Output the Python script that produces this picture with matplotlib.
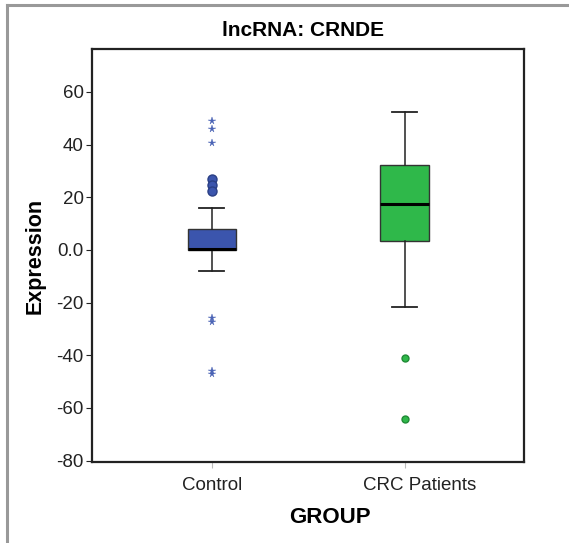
import numpy as np
import matplotlib.pyplot as plt
import matplotlib.transforms as mtransforms
from matplotlib.lines import Line2D

plt.rcParams['font.family'] = ['Liberation Sans', 'DejaVu Sans']

# Data
groups = ['Control', 'CRC Patients']
q1 = [0.0, 3.4]
med = [0.3, 17.5]
q3 = [8.0, 32.3]
whislo = [-8.0, -21.7]
whishi = [16.0, 52.5]
outliers = [[27.0, 24.5, 22.5], [-41.0, -64.0]]      # circles
extremes = [[49.0, 46.0, 40.5, -26.0, -27.5, -46.0, -47.0], []]  # stars
colors = ['#3b55ad', '#2fb84a']
yticks = [-80, -60, -40, -20, 0, 20, 40, 60]
ytick_labels = ['-80', '-60', '-40', '-20', '0.0', '20', '40', '60']

fig = plt.figure(figsize=(5.69, 5.43), dpi=100)
ax = fig.add_axes([0.1617, 0.1492, 0.7593, 0.7606])

pos = [1, 2]
stats = []
for i in range(2):
    stats.append({'q1': q1[i], 'med': med[i], 'q3': q3[i],
                  'whislo': whislo[i], 'whishi': whishi[i], 'fliers': []})

bp = ax.bxp(stats, positions=pos, widths=0.25, patch_artist=True,
            showfliers=False,
            boxprops=dict(edgecolor='#333333', linewidth=1.0),
            medianprops=dict(color='black', linewidth=2.2),
            whiskerprops=dict(color='#222222', linewidth=1.1),
            capprops=dict(color='#222222', linewidth=1.3),
            capwidths=0.13)
for patch, c in zip(bp['boxes'], colors):
    patch.set_facecolor(c)

for i in range(2):
    if outliers[i]:
        ax.plot([pos[i]] * len(outliers[i]), outliers[i], 'o', color=colors[i],
                markeredgecolor='#2a3f85' if i == 0 else '#1f8a35',
                markersize=6.5 if i == 0 else 5, linestyle='none')
    if extremes[i]:
        ax.plot([pos[i]] * len(extremes[i]), extremes[i], '*', color='#4a63b5',
                markersize=5.5, markeredgewidth=0.3, linestyle='none')

ax.set_xlim(0.378, 2.62)
ax.set_ylim(-80.5, 76.3)
ax.set_yticks(yticks)
ax.set_yticklabels(ytick_labels)
ax.set_xticks(pos)
ax.set_xticklabels(groups)
ax.tick_params(axis='both', labelsize=13.5, colors='#222222')
ax.tick_params(axis='x', length=4, color='#bbbbbb', pad=7)
ax.tick_params(axis='y', length=4, pad=2)
for s in ax.spines.values():
    s.set_linewidth(1.6)
    s.set_color('#222222')

# second category label sits a bit right of its tick
lbl = ax.get_xticklabels()[1]
lbl.set_transform(lbl.get_transform() + mtransforms.ScaledTranslation(0.15, 0, fig.dpi_scale_trans))

ax.set_title('lncRNA: CRNDE', fontsize=15, fontweight='bold', pad=9, x=0.488)
ax.set_ylabel('Expression', fontsize=15.5, fontweight='bold', labelpad=8)
ax.set_xlabel('GROUP', fontsize=16, fontweight='bold', labelpad=8)
ax.xaxis.set_label_coords(0.551, -0.108)

# gray frame on top and left
fig.add_artist(Line2D([0.012, 1.0], [0.991, 0.991], color='#999999', linewidth=2.2,
                      transform=fig.transFigure))
fig.add_artist(Line2D([0.0125, 0.0125], [0.0, 0.991], color='#999999', linewidth=2.2,
                      transform=fig.transFigure))

fig.savefig('out.png', dpi=100)
